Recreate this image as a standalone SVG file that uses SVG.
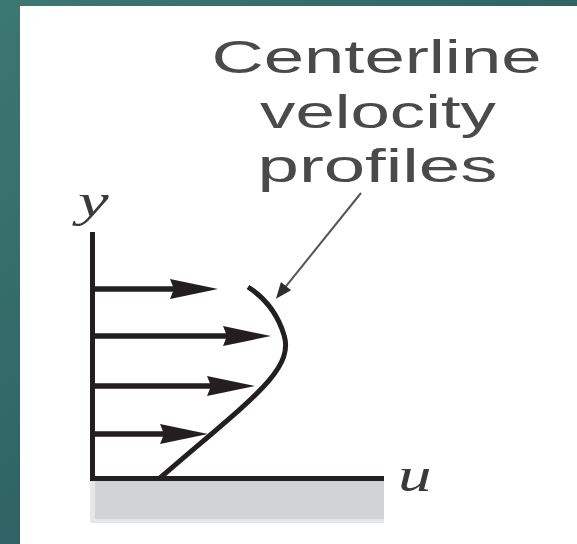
<svg xmlns="http://www.w3.org/2000/svg" width="577" height="544" viewBox="0 0 577 544">
  <defs>
    <linearGradient id="bg" x1="0" y1="0" x2="1" y2="1">
      <stop offset="0" stop-color="#3c7872"/>
      <stop offset="1" stop-color="#234f58"/>
    </linearGradient>
    <marker id="vhead" markerUnits="userSpaceOnUse" orient="auto" overflow="visible" markerWidth="60" markerHeight="30" refX="0" refY="0">
      <path d="M-10,-10 L38,0 L-10,10 L-6,0 Z" fill="#231f20"/>
    </marker>
    <marker id="lhead" markerUnits="userSpaceOnUse" orient="auto" overflow="visible" markerWidth="30" markerHeight="20" refX="0" refY="0">
      <path d="M-4,-6.5 L12,0 L-4,6.5 Z" fill="#2e2e2e"/>
    </marker>
  </defs>
  <style>
    .lbl { font-family: "Liberation Sans", Arial, sans-serif; font-size: 46px; fill: #4a4a4a; }
    .var { font-family: "Liberation Serif", "Times New Roman", serif; font-style: italic; fill: #3a3a3a; }
    .shaft { stroke: #231f20; stroke-width: 5.5; fill: none; marker-end: url(#vhead); }
    .axis { stroke: #231f20; stroke-width: 5; fill: none; }
  </style>
  <rect x="0" y="0" width="577" height="544" fill="url(#bg)"/>
  <rect x="20" y="6" width="557" height="538" fill="#ffffff"/>

  <g id="ground">
    <rect x="90" y="481" width="294" height="42" fill="#e6e7e8"/>
    <rect x="95" y="481" width="289" height="38" fill="#d1d3d4"/>
  </g>

  <g id="label">
    <text class="lbl" x="211.5" y="73" textLength="330" lengthAdjust="spacingAndGlyphs">Centerline</text>
    <text class="lbl" x="260" y="128" textLength="236" lengthAdjust="spacingAndGlyphs">velocity</text>
    <text class="lbl" x="257.5" y="182" textLength="240" lengthAdjust="spacingAndGlyphs">profiles</text>
  </g>

  <g id="y-label">
    <text class="var" font-size="46" transform="translate(78,216) scale(1.5,1)">y</text>
  </g>
  <g id="u-label">
    <text class="var" font-size="48" transform="translate(398,491) scale(1.4,1)">u</text>
  </g>

  <g id="axes">
    <line class="axis" x1="92.5" y1="232" x2="92.5" y2="481"/>
    <line class="axis" x1="90" y1="478.5" x2="384" y2="478.5"/>
  </g>

  <g id="profile">
    <path d="M160,478 C250,400 295,370 284,335 C278,315 265,298 248,287" fill="none" stroke="#231f20" stroke-width="5"/>
  </g>

  <g id="connectors">
    <line class="shaft" x1="92" y1="289" x2="180" y2="289"/>
    <line class="shaft" x1="92" y1="336" x2="233" y2="336"/>
    <line class="shaft" x1="92" y1="386" x2="217" y2="386"/>
    <line class="shaft" x1="92" y1="434" x2="170" y2="434"/>
    <line x1="361" y1="193" x2="283.5" y2="289.3" stroke="#555555" stroke-width="2" marker-end="url(#lhead)"/>
  </g>
</svg>
